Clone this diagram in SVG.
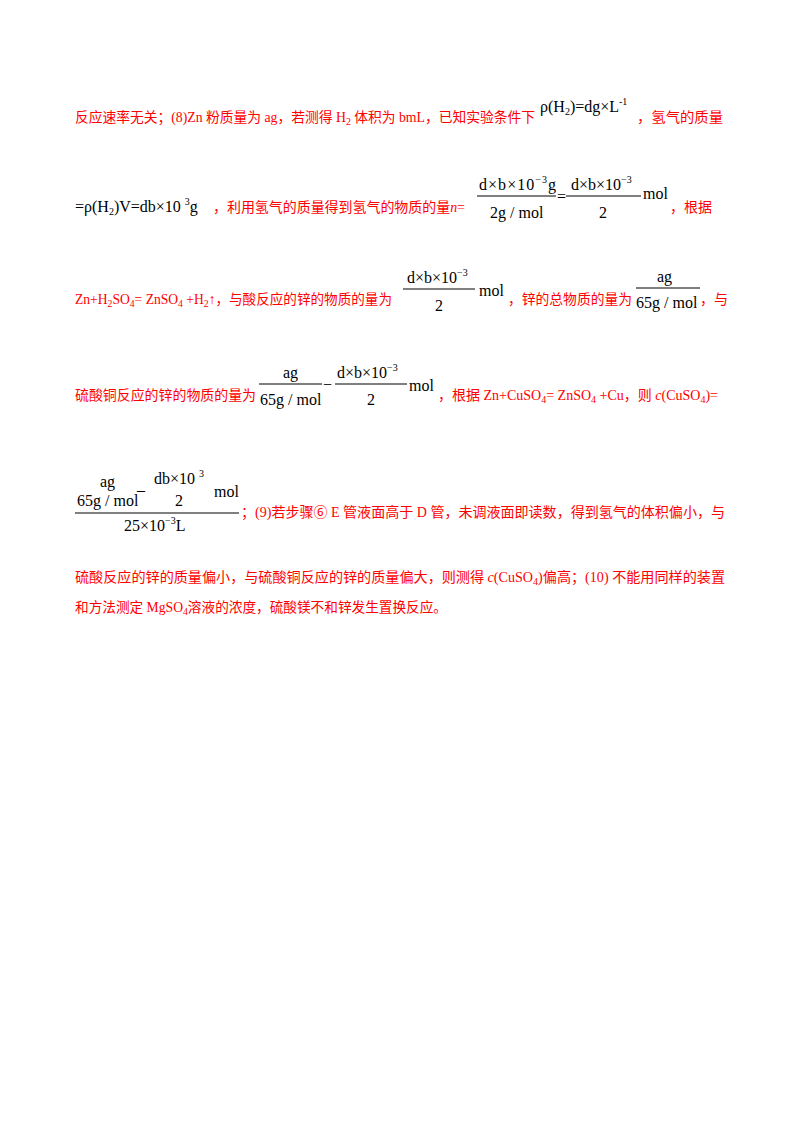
<svg xmlns="http://www.w3.org/2000/svg" width="800" height="1132" viewBox="0 0 800 1132">
<style>
.r{fill:#ff0000;font-family:"Liberation Serif","Noto Sans CJK SC",serif;font-size:14px}
.m{fill:#000;font-family:"Liberation Serif","Times New Roman",serif;font-size:16px}
.s{font-size:10px}
.l{stroke:#000;stroke-width:1}
</style>
<rect width="800" height="1132" fill="#fff"/>
<g id="line1">
<text class="r" x="75" y="122" textLength="460" lengthAdjust="spacingAndGlyphs">反应速率无关；(8)Zn 粉质量为 ag，若测得 H<tspan class="s" dy="3">2</tspan><tspan dy="-3"> 体积为 bmL，已知实验条件下</tspan></text>
<text class="m" font-family="Liberation Serif" x="540" y="112">ρ(H<tspan class="s" dy="3">2</tspan><tspan dy="-3">)=dg×L</tspan><tspan class="s" dy="-7">-1</tspan></text>
<text class="r" x="637" y="122" textLength="86" lengthAdjust="spacingAndGlyphs">，氢气的质量</text>
</g>
<g id="line2">
<text class="m" font-family="Liberation Serif" x="75" y="212">=ρ(H<tspan class="s" dy="3">2</tspan><tspan dy="-3">)V=db×10 </tspan><tspan class="s" dy="-7">3</tspan><tspan dy="7">g</tspan></text>
<text class="r" x="213" y="212" textLength="252" lengthAdjust="spacingAndGlyphs">，利用氢气的质量得到氢气的物质的量<tspan font-style="italic">n</tspan>=</text>
<text class="m" font-family="Liberation Serif" x="479" y="190" textLength="77">d×b×10<tspan class="s" dy="-7">−3</tspan><tspan dy="7">g</tspan></text>
<line class="l" x1="477" y1="196" x2="556" y2="196"/>
<text class="m" font-family="Liberation Serif" x="490" y="218">2g / mol</text>
<text class="m" font-family="Liberation Serif" x="557" y="202">=</text>
<text class="m" font-family="Liberation Serif" x="571" y="190">d×b×10<tspan class="s" dy="-7">−3</tspan></text>
<line class="l" x1="566" y1="196" x2="641" y2="196"/>
<text class="m" font-family="Liberation Serif" x="599" y="218">2</text>
<text class="m" font-family="Liberation Serif" x="643" y="199">mol</text>
<text class="r" x="670" y="212">，根据</text>
</g>
<g id="line3">
<text class="r" x="75" y="304" textLength="317" lengthAdjust="spacingAndGlyphs">Zn+H<tspan class="s" dy="3">2</tspan><tspan dy="-3">SO</tspan><tspan class="s" dy="3">4</tspan><tspan dy="-3">= ZnSO</tspan><tspan class="s" dy="3">4</tspan><tspan dy="-3">  +H</tspan><tspan class="s" dy="3">2</tspan><tspan dy="-3">↑，与酸反应的锌的物质的量为</tspan></text>
<text class="m" font-family="Liberation Serif" x="407" y="283">d×b×10<tspan class="s" dy="-7">−3</tspan></text>
<line class="l" x1="403" y1="289" x2="475" y2="289"/>
<text class="m" font-family="Liberation Serif" x="435" y="311">2</text>
<text class="m" font-family="Liberation Serif" x="479" y="296">mol</text>
<text class="r" x="508" y="304" textLength="124" lengthAdjust="spacingAndGlyphs">，锌的总物质的量为</text>
<text class="m" font-family="Liberation Serif" x="657" y="282">ag</text>
<line class="l" x1="636" y1="288" x2="700" y2="288"/>
<text class="m" font-family="Liberation Serif" x="636" y="308">65g / mol</text>
<text class="r" x="700" y="304">，与</text>
</g>
<g id="line4">
<text class="r" x="75" y="400" textLength="181" lengthAdjust="spacingAndGlyphs">硫酸铜反应的锌的物质的量为</text>
<text class="m" font-family="Liberation Serif" x="283" y="378">ag</text>
<line class="l" x1="259" y1="384" x2="322" y2="384"/>
<text class="m" font-family="Liberation Serif" x="260" y="405">65g / mol</text>
<text class="m" font-family="Liberation Serif" x="323" y="390">−</text>
<text class="m" font-family="Liberation Serif" x="337" y="378">d×b×10<tspan class="s" dy="-7">−3</tspan></text>
<line class="l" x1="335" y1="384" x2="407" y2="384"/>
<text class="m" font-family="Liberation Serif" x="367" y="405">2</text>
<text class="m" font-family="Liberation Serif" x="409" y="391">mol</text>
<text class="r" x="438" y="400" textLength="280" lengthAdjust="spacingAndGlyphs">，根据 Zn+CuSO<tspan class="s" dy="3">4</tspan><tspan dy="-3">= ZnSO</tspan><tspan class="s" dy="3">4</tspan><tspan dy="-3">  +Cu，则 </tspan><tspan font-style="italic">c</tspan>(CuSO<tspan class="s" dy="3">4</tspan><tspan dy="-3">)=</tspan></text>
</g>
<g id="line5">
<text class="m" font-family="Liberation Serif" x="100" y="487">ag</text>
<text class="m" font-family="Liberation Serif" x="137" y="490">_</text>
<text class="m" font-family="Liberation Serif" x="154" y="484">db×10 <tspan class="s" dy="-7">3</tspan></text>
<text class="m" font-family="Liberation Serif" x="214" y="497">mol</text>
<text class="m" font-family="Liberation Serif" x="77" y="506">65g / mol</text>
<text class="m" font-family="Liberation Serif" x="175" y="506">2</text>
<line class="l" x1="75" y1="513" x2="239" y2="513"/>
<text class="m" font-family="Liberation Serif" x="124" y="531">25×10<tspan class="s" dy="-7">−3</tspan><tspan dy="7">L</tspan></text>
<text class="r" x="241" y="517" textLength="484" lengthAdjust="spacingAndGlyphs">；(9)若步骤⑥ E 管液面高于 D 管，未调液面即读数，得到氢气的体积偏小，与</text>
</g>
<g id="line6">
<text class="r" x="75" y="582" textLength="650" lengthAdjust="spacingAndGlyphs">硫酸反应的锌的质量偏小，与硫酸铜反应的锌的质量偏大，则测得 <tspan font-style="italic">c</tspan>(CuSO<tspan class="s" dy="3">4</tspan><tspan dy="-3">)偏高；(10) 不能用同样的装置</tspan></text>
<text class="r" x="75" y="612" textLength="372" lengthAdjust="spacingAndGlyphs">和方法测定 MgSO<tspan class="s" dy="3">4</tspan><tspan dy="-3">溶液的浓度，硫酸镁不和锌发生置换反应。</tspan></text>
</g>
</svg>
